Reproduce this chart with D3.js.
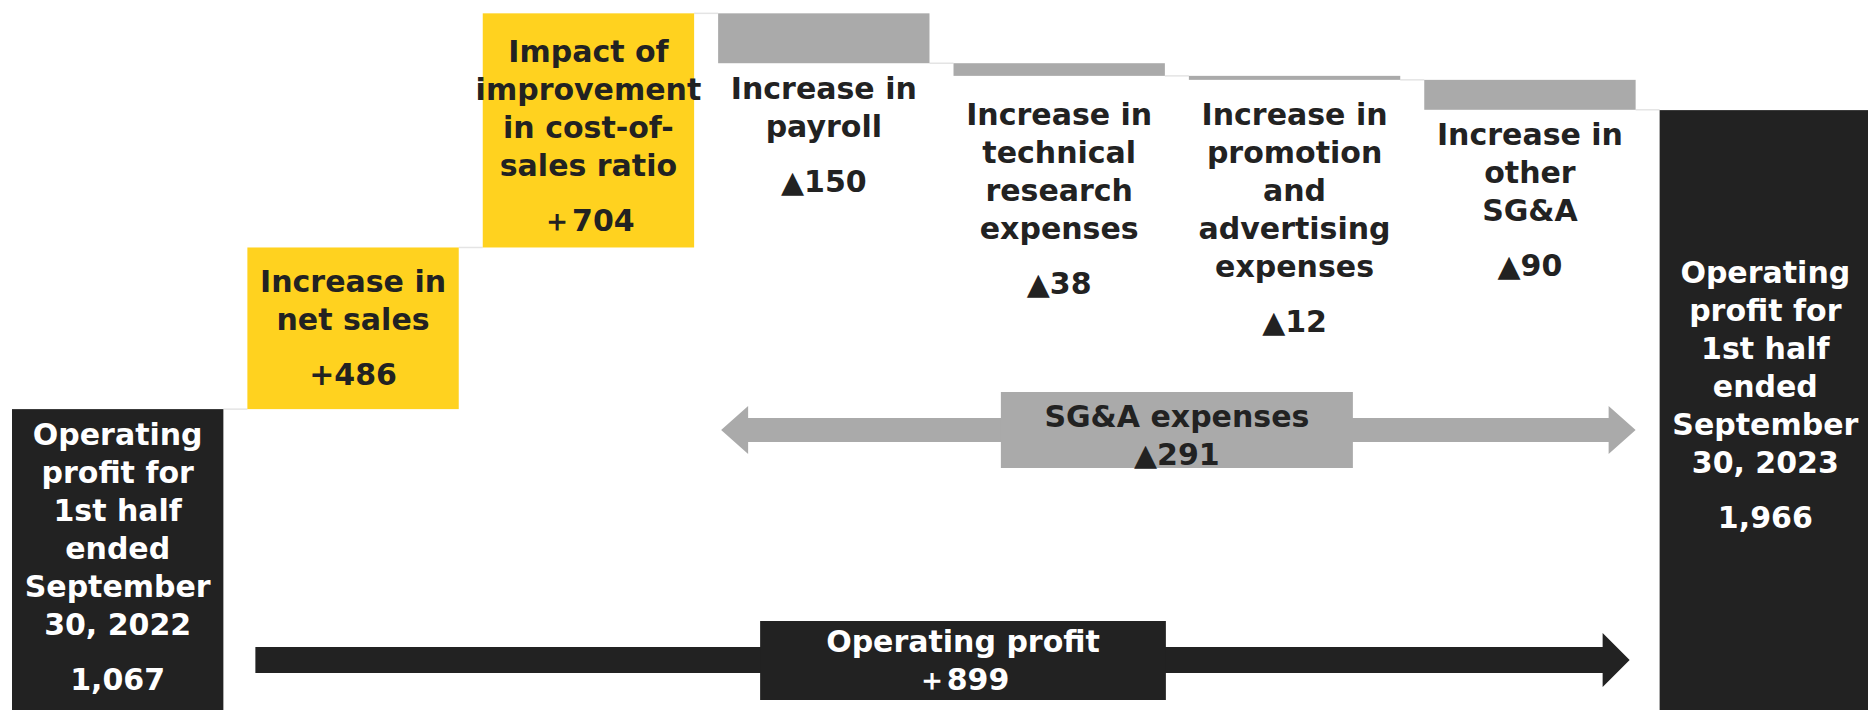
<!DOCTYPE html>
<html>
<head>
<meta charset="utf-8">
<script src="https://cdn.jsdelivr.net/npm/d3@7"></script>
<style>
    body { margin: 0; background: #fff; }
    svg { display: block; font-family: "DejaVu Sans", Verdana, sans-serif; font-weight: bold; }
</style>
</head>
<body>
<svg id="chart" width="1868" height="710"></svg>
<script>
// --- data ---
const categories = ["base2022", "netSales", "costRatio", "payroll", "techResearch", "promotion", "otherSGA", "op2023"];
const values = [1067, 486, 704, -150, -38, -12, -90, 1966];
const kinds = ["total", "up", "up", "down", "down", "down", "down", "total"];
const labelLines = [
    ["Operating", "profit for", "1st half", "ended", "September", "30, 2022"],
    ["Increase in", "net sales"],
    ["Impact of", "improvement", "in cost-of-", "sales ratio"],
    ["Increase in", "payroll"],
    ["Increase in", "technical", "research", "expenses"],
    ["Increase in", "promotion", "and", "advertising", "expenses"],
    ["Increase in", "other", "SG&A"],
    ["Operating", "profit for", "1st half", "ended", "September", "30, 2023"]
];
const valueLabels = ["1,067", "+486", "\uFF0B704", "\u25B2150", "\u25B238", "\u25B212", "\u25B290", "1,966"];
const sgaLabel = ["SG&A expenses", "\u25B2291"];
const opLabel = ["Operating profit", "\uFF0B899"];

// --- layout ---
const W = 1868, H = 710;
const colors = { total: "#222222", up: "#FFD21F", down: "#AAAAAA" };
const textColors = { total: "#ffffff", up: "#222222", down: "#222222" };
// first baseline offset from bar top
const labelOffset = [36, 45, 49, 86, 62, 49, 65, 173];
const lineGap = 38, valueGap = 55;

const svg = d3.select("#chart");
svg.append("rect").attr("width", W).attr("height", H).attr("fill", "#fff");

const x = d3.scaleBand().domain(categories).range([12, 1871]).paddingInner(0.102).paddingOuter(0);
const y = d3.scaleLinear().domain([0, 2255]).range([764, 14]);
const bw = x.bandwidth();

// running totals
let run = 0;
const bars = categories.map((c, i) => {
    let v0, v1;
    if (kinds[i] === "total") { v0 = 0; v1 = values[i]; run = values[i]; }
    else { v0 = run; run += values[i]; v1 = run; }
    return { key: c, i, kind: kinds[i], v0, v1, end: run };
});

// connectors
svg.selectAll(".conn")
    .data(bars.slice(0, -1))
    .enter().append("line")
    .attr("x1", d => x(d.key) + bw)
    .attr("x2", d => x(categories[d.i + 1]))
    .attr("y1", d => y(d.end))
    .attr("y2", d => y(d.end))
    .attr("stroke", "#e4e4e4")
    .attr("stroke-width", 1.5);

// bars
svg.selectAll(".bar")
    .data(bars)
    .enter().append("rect")
    .attr("x", d => x(d.key))
    .attr("width", bw)
    .attr("y", d => y(Math.max(d.v0, d.v1)))
    .attr("height", d => Math.abs(y(d.v0) - y(d.v1)))
    .attr("fill", d => colors[d.kind]);

// labels
bars.forEach(d => {
    const cx = x(d.key) + bw / 2;
    const top = y(Math.max(d.v0, d.v1));
    const first = top + labelOffset[d.i];
    const g = svg.append("g").attr("fill", textColors[d.kind])
        .attr("font-size", 30).attr("text-anchor", "middle");
    labelLines[d.i].forEach((t, k) => {
        g.append("text").attr("x", cx).attr("y", first + k * lineGap).text(t);
    });
    const n = labelLines[d.i].length;
    g.append("text").attr("x", cx).attr("y", first + (n - 1) * lineGap + valueGap).text(valueLabels[d.i]);
});

// arrow shape
function arrowPath(x0, x1, cy, thick, headLen, headHalf, both) {
    const p = d3.path();
    const t = thick / 2;
    const sx = both ? x0 + headLen : x0;
    p.moveTo(sx, cy - t);
    p.lineTo(x1 - headLen, cy - t);
    p.lineTo(x1 - headLen, cy - headHalf);
    p.lineTo(x1, cy);
    p.lineTo(x1 - headLen, cy + headHalf);
    p.lineTo(x1 - headLen, cy + t);
    p.lineTo(sx, cy + t);
    if (both) {
        p.lineTo(sx, cy + headHalf);
        p.lineTo(x0, cy);
        p.lineTo(sx, cy - headHalf);
    }
    p.closePath();
    return p.toString();
}

// SG&A double arrow
const sgaX0 = x("payroll") + 3, sgaX1 = x("otherSGA") + bw;
svg.append("path")
    .attr("d", arrowPath(sgaX0, sgaX1, 430, 24, 27, 24, true))
    .attr("fill", "#AAAAAA");
const sgaCx = (x("techResearch") + x("promotion") + bw) / 2;
svg.append("rect")
    .attr("x", sgaCx - 176).attr("width", 352)
    .attr("y", 392).attr("height", 76)
    .attr("fill", "#AAAAAA");
sgaLabel.forEach((t, k) => {
    svg.append("text").attr("x", sgaCx).attr("y", 427 + k * 38)
        .attr("text-anchor", "middle").attr("font-size", 30).attr("fill", "#222222").text(t);
});

// Operating profit arrow
const opX0 = x("netSales") + 8, opX1 = x("op2023") - 30;
svg.append("path")
    .attr("d", arrowPath(opX0, opX1, 660, 26, 27, 27, false))
    .attr("fill", "#222222");
const opBx0 = x("payroll") + 42, opBx1 = x("techResearch") + bw + 1;
svg.append("rect")
    .attr("x", opBx0).attr("width", opBx1 - opBx0)
    .attr("y", 621).attr("height", 79)
    .attr("fill", "#222222");
opLabel.forEach((t, k) => {
    svg.append("text").attr("x", (opBx0 + opBx1) / 2).attr("y", 652 + k * 38)
        .attr("text-anchor", "middle").attr("font-size", 30).attr("fill", "#ffffff").text(t);
});
</script>
</body>
</html>
